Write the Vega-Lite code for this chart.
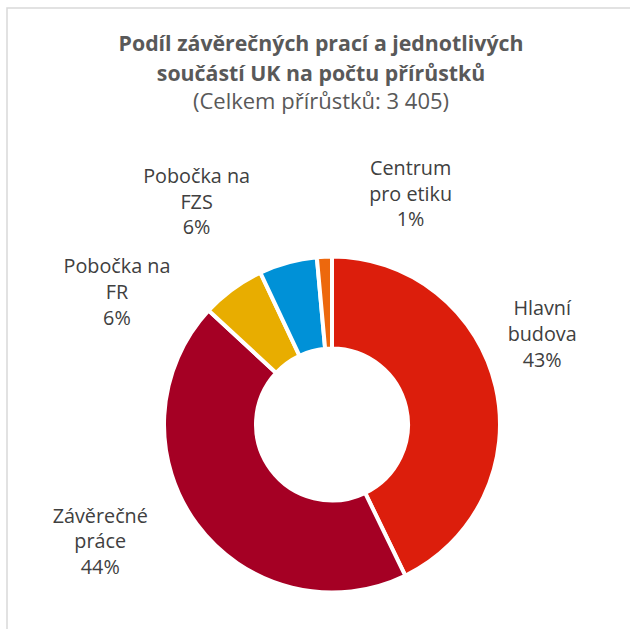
{
  "$schema": "https://vega.github.io/schema/vega-lite/v6.json",
  "width": 650,
  "height": 833,
  "autosize": "none",
  "padding": {"left": 7, "top": 8, "right": 0, "bottom": 0},
  "background": "white",
  "view": {"stroke": "#d9d9d9", "strokeWidth": 1.5},
  "title": {
    "text": ["Podíl závěrečných prací a jednotlivých", "součástí UK na počtu přírůstků"],
    "subtitle": "(Celkem přírůstků: 3 405)",
    "font": "Open Sans",
    "fontSize": 21.3,
    "fontWeight": "bold",
    "color": "#595959",
    "lineHeight": 30,
    "subtitleFont": "Open Sans",
    "subtitleFontSize": 22,
    "subtitleColor": "#595959",
    "subtitlePadding": 7,
    "anchor": "middle",
    "offset": -105,
    "dx": -11
  },
  "data": {
    "values": [
      {"cat": "Hlavní budova", "value": 1458, "label": "Hlavní\nbudova\n43%"},
      {"cat": "Závěrečné práce", "value": 1500, "label": "Závěrečné\npráce\n44%"},
      {"cat": "Pobočka na FR", "value": 208, "label": "Pobočka na\nFR\n6%"},
      {"cat": "Pobočka na FZS", "value": 190, "label": "Pobočka na\nFZS\n6%"},
      {"cat": "Centrum pro etiku", "value": 49, "label": "Centrum\npro etiku\n1%"}
    ]
  },
  "transform": [{"window": [{"op": "row_number", "as": "rank"}]}],
  "encoding": {
    "theta": {"field": "value", "type": "quantitative", "stack": true},
    "order": {"field": "rank", "type": "quantitative"}
  },
  "layer": [
    {
      "mark": {"type": "arc", "outerRadius": 168, "innerRadius": 76, "stroke": "white", "strokeWidth": 4},
      "encoding": {
        "color": {
          "field": "cat",
          "type": "nominal",
          "scale": {
            "domain": ["Hlavní budova", "Závěrečné práce", "Pobočka na FR", "Pobočka na FZS", "Centrum pro etiku"],
            "range": ["#dc1e0c", "#a50024", "#e8ad00", "#0091d7", "#ed680d"]
          },
          "legend": null
        }
      }
    },
    {
      "mark": {"type": "text", "font": "Open Sans", "fontSize": 19.8, "fill": "#404040", "lineBreak": "\n", "lineHeight": 25.7, "dx": -14, "dy": -63.7},
      "encoding": {
        "detail": {"field": "cat"},
        "radius": {"value": 230},
        "text": {"condition": {"test": "datum.cat === 'Hlavní budova'", "field": "label"}, "value": ""}
      }
    },
    {
      "mark": {"type": "text", "font": "Open Sans", "fontSize": 19.8, "fill": "#404040", "lineBreak": "\n", "lineHeight": 25.7, "dx": -47, "dy": -44.7},
      "encoding": {
        "detail": {"field": "cat"},
        "radius": {"value": 230},
        "text": {"condition": {"test": "datum.cat === 'Závěrečné práce'", "field": "label"}, "value": ""}
      }
    },
    {
      "mark": {"type": "text", "font": "Open Sans", "fontSize": 19.8, "fill": "#404040", "lineBreak": "\n", "lineHeight": 25.7, "dx": -79, "dy": 28.3},
      "encoding": {
        "detail": {"field": "cat"},
        "radius": {"value": 230},
        "text": {"condition": {"test": "datum.cat === 'Pobočka na FR'", "field": "label"}, "value": ""}
      }
    },
    {
      "mark": {"type": "text", "font": "Open Sans", "fontSize": 19.8, "fill": "#404040", "lineBreak": "\n", "lineHeight": 25.7, "dx": -75, "dy": -25.7},
      "encoding": {
        "detail": {"field": "cat"},
        "radius": {"value": 230},
        "text": {"condition": {"test": "datum.cat === 'Pobočka na FZS'", "field": "label"}, "value": ""}
      }
    },
    {
      "mark": {"type": "text", "font": "Open Sans", "fontSize": 19.8, "fill": "#404040", "lineBreak": "\n", "lineHeight": 25.7, "dx": 89, "dy": -25.7},
      "encoding": {
        "detail": {"field": "cat"},
        "radius": {"value": 230},
        "text": {"condition": {"test": "datum.cat === 'Centrum pro etiku'", "field": "label"}, "value": ""}
      }
    }
  ]
}
